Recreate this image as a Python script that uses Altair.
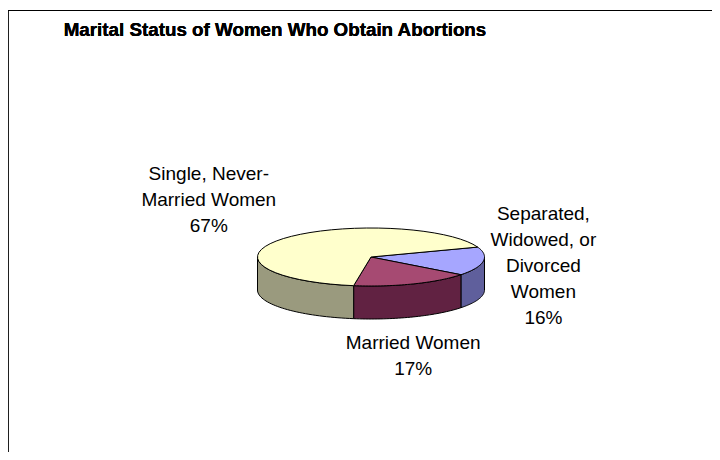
import altair as alt
import pandas as pd

# ---- data ----
categories = [
    "Separated, Widowed, or Divorced Women",
    "Married Women",
    "Single, Never-Married Women",
]
label_lines = [
    ["Separated,", "Widowed, or", "Divorced", "Women"],
    ["Married Women"],
    ["Single, Never-", "Married Women"],
]
values = [16, 17, 67]
top_colors = ["#A6A6FF", "#A64A72", "#FFFFCC"]
side_colors = ["#5F5F9C", "#612242", "#9A9A7E"]

# ---- layout constants (pixels inside the plot area) ----
W, H = 704, 444
CX, CY = 363, 249        # pie centre
A, B, D = 113.5, 29, 33  # ellipse half-axes and depth
START = 70               # angle of first slice (deg, clockwise from 12 o'clock)
N = 40                   # points per arc
FS, LH = 19, 26          # label font size / line height

df = pd.DataFrame({
    "category": categories,
    "label": ["\n".join(l) for l in label_lines],
    "value": values,
    "order": list(range(1, len(values) + 1)),
    "nlines": [len(l) + 1 for l in label_lines],
    "maxlen": [max(len(s) for s in l) for l in label_lines],
})

xs = alt.Scale(domain=[0, W], nice=False, zero=False)
ys = alt.Scale(domain=[0, H], nice=False, zero=False, reverse=True)

base = alt.Chart(df).transform_joinaggregate(
    total="sum(value)"
).transform_window(
    cum="sum(value)", sort=[alt.SortField("order")], frame=[None, 0]
).transform_calculate(
    a1=f"{START} + 360*datum.cum/datum.total",
    a0=f"{START} + 360*(datum.cum - datum.value)/datum.total",
)

# side walls (front half only)
side = base.transform_calculate(
    v0="max(datum.a0, 90)", v1="min(datum.a1, 270)"
).transform_filter("datum.v1 > datum.v0").transform_calculate(
    idx=f"sequence(0, {2 * N + 2})"
).transform_flatten(["idx"]).transform_calculate(
    f=f"datum.idx <= {N} ? datum.idx/{N} : ({2 * N + 1} - datum.idx)/{N}"
).transform_calculate(
    t="(datum.v0 + (datum.v1 - datum.v0)*datum.f) * PI / 180"
).transform_calculate(
    px=f"{CX} + {A}*sin(datum.t)",
    py=f"{CY} - {B}*cos(datum.t) + (datum.idx > {N} ? {D} : 0)",
).mark_line(
    interpolate="linear-closed", stroke="black", strokeWidth=1, strokeJoin="round"
).encode(
    x=alt.X("px:Q", scale=xs, axis=None),
    y=alt.Y("py:Q", scale=ys, axis=None),
    order="idx:Q",
    detail="category:N",
    fill=alt.Fill("category:N", scale=alt.Scale(domain=categories, range=side_colors), legend=None),
)

# top faces
top = base.transform_calculate(
    idx=f"sequence(-1, {N + 1})"
).transform_flatten(["idx"]).transform_calculate(
    t=f"(datum.a0 + (datum.a1 - datum.a0)*max(datum.idx, 0)/{N}) * PI / 180"
).transform_calculate(
    px=f"datum.idx < 0 ? {CX} : {CX} + {A}*sin(datum.t)",
    py=f"datum.idx < 0 ? {CY} : {CY} - {B}*cos(datum.t)",
).mark_line(
    interpolate="linear-closed", stroke="black", strokeWidth=1, strokeJoin="round"
).encode(
    x=alt.X("px:Q", scale=xs, axis=None),
    y=alt.Y("py:Q", scale=ys, axis=None),
    order="idx:Q",
    detail="category:N",
    fill=alt.Fill("category:N", scale=alt.Scale(domain=categories, range=top_colors), legend=None),
)

# labels placed outside the slice mid-point
labels = base.transform_calculate(
    m="(datum.a0 + datum.a1) / 2 * PI / 180"
).transform_calculate(
    s="sin(datum.m)", c="cos(datum.m)",
    hw=f"datum.maxlen * {FS} * 0.25",
    hh=f"datum.nlines * {LH} / 2",
).transform_calculate(
    fx="clamp((abs(datum.s) - 0.4) / 0.3, 0, 1) * (datum.s < 0 ? -1 : 1)",
    fy="clamp((abs(datum.c) - 0.42) / 0.3, 0, 1) * (datum.c < 0 ? 1 : -1)",
    ax=f"{CX} + {A}*datum.s",
    ay=f"{CY} - {B}*datum.c + {D}*max(-datum.c, 0)",
).transform_calculate(
    lx="datum.ax + datum.fx * (datum.hw + 8)",
    ly=f"datum.ay + datum.fy * (datum.hh + 15) - (datum.nlines - 1) * {LH} / 2",
    txt="datum.label + '\\n' + datum.value + '%'",
).mark_text(
    font="Liberation Sans", fontSize=FS, lineHeight=LH, lineBreak="\n",
    align="center", baseline="middle", color="black",
).encode(
    x=alt.X("lx:Q", scale=xs, axis=None),
    y=alt.Y("ly:Q", scale=ys, axis=None),
    text="txt:N",
)

title = alt.Chart(df).mark_text(
    text="Marital Status of Women Who Obtain Abortions",
    font="Liberation Sans", fontSize=18.8, fontWeight="bold",
    align="center", baseline="alphabetic", color="black",
).encode(x=alt.value(267), y=alt.value(28))

frame_top = alt.Chart(df).mark_rule(color="black", strokeWidth=1).encode(
    x=alt.value(0), x2=alt.value(W), y=alt.value(2.5)
)
frame_left = alt.Chart(df).mark_rule(color="black", strokeWidth=1).encode(
    x=alt.value(0), y=alt.value(2.5), y2=alt.value(H)
)

chart = alt.layer(frame_top, frame_left, title, side, top, labels).resolve_scale(
    fill="independent"
).properties(
    width=W, height=H,
    autosize=alt.AutoSizeParams(type="none"),
    padding=0,
    background="white",
).configure_view(stroke=None)

chart.save("out.html", embed_options={"renderer": "svg", "actions": False})
